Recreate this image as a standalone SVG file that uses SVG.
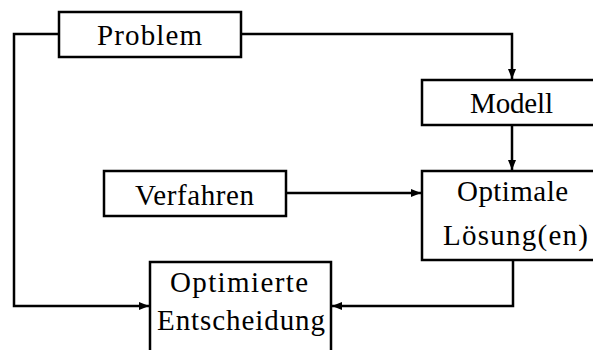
<svg xmlns="http://www.w3.org/2000/svg" width="593" height="350" viewBox="0 0 593 350">
<style>
.box{fill:#fff;stroke:#000;stroke-width:2.5}
.ln{fill:none;stroke:#000;stroke-width:2.5}
text{font-family:"Liberation Serif","DejaVu Serif",serif;font-size:29px;fill:#000;text-anchor:middle}
</style>
<defs>
<marker id="ah" viewBox="0 0 10 8" refX="10" refY="4" markerWidth="10" markerHeight="8" markerUnits="userSpaceOnUse" orient="auto">
<path d="M0,0 L10,4 L0,8 Z" fill="#000"/>
</marker>
</defs>
<g id="connectors">
<path class="ln" d="M241,34 H512 V79" marker-end="url(#ah)"/>
<path class="ln" d="M512,126 V170" marker-end="url(#ah)"/>
<path class="ln" d="M286,193 H421" marker-end="url(#ah)"/>
<path class="ln" d="M59,34 H14 V306 H149" marker-end="url(#ah)"/>
<path class="ln" d="M513,261 V306 H332" marker-end="url(#ah)"/>
</g>
<g id="problem"><rect class="box" x="59" y="12" width="182" height="45"/><text x="149.5" y="45" textLength="105" lengthAdjust="spacing">Problem</text></g>
<g id="modell"><rect class="box" x="422" y="80" width="180" height="45"/><text x="511.5" y="113" textLength="83" lengthAdjust="spacing">Modell</text></g>
<g id="verfahren"><rect class="box" x="104" y="171" width="182" height="45"/><text x="194.5" y="205" textLength="119" lengthAdjust="spacing">Verfahren</text></g>
<g id="optimale"><rect class="box" x="422" y="171" width="180" height="89"/><text x="512.5" y="201" textLength="111" lengthAdjust="spacing">Optimale</text><text x="515.5" y="245" textLength="145" lengthAdjust="spacing">Lösung(en)</text></g>
<g id="optimierte"><rect class="box" x="150" y="262" width="181" height="100"/><text x="239" y="292" textLength="138" lengthAdjust="spacing">Optimierte</text><text x="241" y="330" textLength="168" lengthAdjust="spacing">Entscheidung</text></g>
</svg>
